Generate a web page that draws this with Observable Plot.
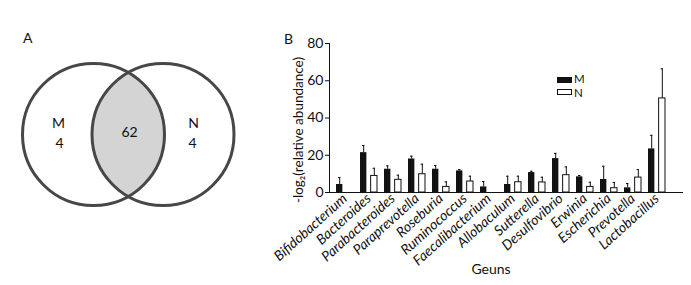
<!DOCTYPE html>
<html><head><meta charset="utf-8">
<script src="https://cdn.jsdelivr.net/npm/d3@7"></script>
<script src="https://cdn.jsdelivr.net/npm/@observablehq/plot@0.6"></script>
<style>
html,body{margin:0;padding:0;background:#fff;}
#wrap{position:relative;width:691px;height:285px;overflow:hidden;font-family:Lato,"Open Sans",sans-serif;color:#111;}
#wrap svg{position:absolute;top:0;}
#bar g[aria-label="x-axis tick label"] text{font-style:italic;font-size:14px;}
#bar g[aria-label="y-axis tick label"] text{font-size:14px;}
.lbl{position:absolute;font-size:14px;line-height:1;}
.leg{position:absolute;font-size:11.5px;line-height:11px;height:11px;}
.sw{position:absolute;width:15px;box-sizing:border-box;}
</style></head><body>
<div id="wrap"></div>
<script>
// ---- data ----
const genera = ["Bifidobacterium","Bacteroides","Parabacteroides","Paraprevotella","Roseburia","Ruminococcus","Faecalibacterium","Allobaculum","Sutterella","Desulfovibrio","Erwinia","Escherichia","Prevotella","Lactobacillus"];
const groups = ["M","N"];
const mMean = [4.3, 21.4, 12.5, 18.0, 12.5, 11.6, 3.0, 4.3, 10.7, 18.2, 8.4, 7.0, 2.5, 23.4];
const mErr  = [3.7, 3.8, 1.8, 1.5, 2.0, 0.7, 2.9, 4.45, 0.7, 2.8, 0.7, 7.1, 2.3, 7.3];
const nMean = [null, 8.9, 6.8, 9.8, 3.0, 5.9, null, 5.5, 5.4, 9.3, 3.0, 2.3, 8.0, 50.5];
const nErr  = [null, 4.1, 2.5, 5.4, 2.7, 2.85, null, 3.25, 2.8, 4.45, 2.5, 3.1, 4.3, 15.9];
const yTicks = [0, 20, 40, 60, 80];
const yLabel = "-log\u2082(relative abundance)";
const xLabel = "Geuns";
const vennNames = ["M","N"];
const vennOnly = [4, 4];
const vennShared = 62;
</script>
<script>
const wrap = document.getElementById("wrap");

// ---- bar chart ----
const rows = [];
genera.forEach((g,i)=>{
  rows.push({genus:g, group:"M", v:mMean[i], e:mErr[i]});
  if (nMean[i] != null) rows.push({genus:g, group:"N", v:nMean[i], e:nErr[i]});
});
const M = rows.filter(d=>d.group==="M"), N = rows.filter(d=>d.group==="N");

const W = 431, mL = 69, mR = 9;
const pI = 0.294, pO = 0.214;
const step = (W - mL - mR) / (genera.length - pI + 2*pO);
const bw = step*(1-pI);
const barW = 7;
const ins = bw - barW;
const cM = barW/2 - bw/2, cN = bw/2 - barW/2;
const cap = 1.5;

const bar = Plot.plot({
  width: W, height: 285,
  marginLeft: mL, marginRight: mR, marginTop: 43, marginBottom: 93,
  style: {fontFamily: "Lato, 'Open Sans', sans-serif", fontSize: "14px", color: "#111", background: "transparent"},
  x: {type: "band", domain: genera, paddingInner: pI, paddingOuter: pO, align: 0.3,
      tickSize: 0, tickRotate: -42, tickPadding: 4, label: null, line: true},
  y: {domain: [0, 80], ticks: yTicks, tickSize: 4, tickPadding: 2, label: null, line: true},
  marks: [
    Plot.ruleX(M, {x: "genus", y1: "v", y2: d=>d.v+d.e, dx: cM, stroke: "#111", strokeWidth: 1}),
    Plot.tickY(M, {x: "genus", y: d=>d.v+d.e, insetLeft: barW/2-cap, insetRight: bw-barW/2-cap, stroke: "#111", strokeWidth: 1}),
    Plot.ruleX(N, {x: "genus", y1: "v", y2: d=>d.v+d.e, dx: cN, stroke: "#111", strokeWidth: 1}),
    Plot.tickY(N, {x: "genus", y: d=>d.v+d.e, insetLeft: bw-barW/2-cap, insetRight: barW/2-cap, stroke: "#111", strokeWidth: 1}),
    Plot.barY(M, {x: "genus", y: "v", insetRight: ins, fill: "#111"}),
    Plot.barY(N, {x: "genus", y: "v", insetLeft: ins, fill: "#fff", stroke: "#111", strokeWidth: 1}),
    Plot.text([yLabel], {frameAnchor: "left", rotate: -90, dx: -31, dy: 12, textAnchor: "middle", fontSize: 13.5}),
    Plot.text([xLabel], {frameAnchor: "bottom", dy: 81, dx: -15, textAnchor: "middle", fontSize: 14})
  ]
});
bar.id = "bar";
bar.style.left = "260px";
wrap.appendChild(bar);

// ---- Venn ----
const R = 71, cy = 134, cx = [93, 162.5];
const half = (cx[1]-cx[0])/2, h = Math.sqrt(R*R - half*half);
const lens = d3.range(cy-h, cy+h+0.001, (2*h)/120).map(y=>{
  const s = Math.sqrt(Math.max(0, R*R-(y-cy)*(y-cy)));
  return {y, x1: cx[1]-s, x2: cx[0]+s};
});
const circles = vennNames.map((n,i)=>({name:n, x:cx[i], y:cy}));
const venn = Plot.plot({
  width: 260, height: 285, margin: 0,
  style: {fontFamily: "Lato, 'Open Sans', sans-serif", fontSize: "14px", color: "#111", background: "transparent"},
  x: {domain: [0, 260], range: [0, 260], axis: null},
  y: {domain: [0, 285], range: [0, 285], axis: null},
  marks: [
    Plot.areaX(lens, {y: "y", x1: "x1", x2: "x2", fill: "#d4d4d4"}),
    Plot.dot(circles, {x: "x", y: "y", r: R, stroke: "#474747", strokeWidth: 3, fill: "none"}),
    Plot.text(circles, {x: (d,i)=>[58,193][i], y: 123, text: "name", fontSize: 14}),
    Plot.text(circles, {x: (d,i)=>[59,192][i], y: 143, text: (d,i)=>String(vennOnly[i]), fontSize: 14}),
    Plot.text([vennShared], {x: 129, y: 132, text: d=>String(d), fontSize: 14})
  ]
});
venn.style.left = "0px";
wrap.appendChild(venn);

// ---- panel letters & legend ----
function addText(t, x, y, cls){ const d=document.createElement("div"); d.className=cls||"lbl"; d.textContent=t; d.style.left=x+"px"; d.style.top=y+"px"; wrap.appendChild(d); }
addText("A", 23, 31);
addText("B", 284, 32);
const legTop = [77, 89];
const legTextTop = [72.5, 86.5];
groups.forEach((g,i)=>{
  const s=document.createElement("div"); s.className="sw";
  s.style.left="557px"; s.style.top=legTop[i]+"px"; s.style.height="6px";
  s.style.background = i===0 ? "#111" : "#fff";
  s.style.border = "1px solid #111";
  wrap.appendChild(s);
  addText(g, 574, legTextTop[i], "leg");
});
</script>
</body></html>
